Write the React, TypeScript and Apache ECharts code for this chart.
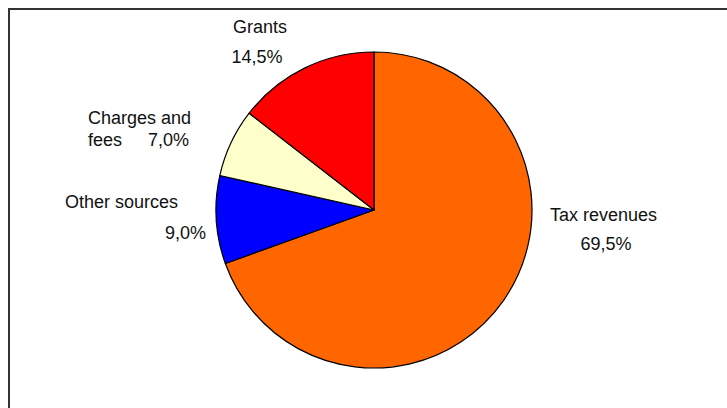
import React, { useEffect, useRef } from "react";
import * as echarts from "echarts";

const categories = ["Tax revenues", "Other sources", "Charges and fees", "Grants"];
const values = [69.5, 9.0, 7.0, 14.5];
const colors = ["#FF6600", "#0000FF", "#FFFFCC", "#FF0000"];

const fmt = (v: number) => v.toFixed(1).replace(".", ",") + "%";

export default function App() {
  const ref = useRef<HTMLDivElement>(null);
  useEffect(() => {
    document.body.style.margin = "0";
    const chart = echarts.init(ref.current!, null, { renderer: "svg" });
    const font = { fontFamily: "Liberation Sans, Arial, sans-serif", fontSize: 18, fill: "#111" };
    const txt = (text: string, x: number, y: number, align: string) => ({
      type: "text",
      x,
      y,
      style: { ...font, text, align, verticalAlign: "middle" },
      silent: true,
    });
    chart.setOption({
      animation: false,
      backgroundColor: "#fff",
      graphic: [
        {
          type: "polyline",
          shape: { points: [[9, 420], [9, 9], [740, 9]] },
          style: { stroke: "#333", lineWidth: 2, fill: null },
        },
        txt(categories[3], 260, 27, "center"),
        txt(fmt(values[3]), 257, 57, "center"),
        txt("Charges and", 88, 118, "left"),
        txt("fees", 88, 140, "left"),
        txt(fmt(values[2]), 189, 140, "right"),
        txt(categories[1], 65, 202, "left"),
        txt(fmt(values[1]), 206, 233, "right"),
        txt(categories[0], 550, 215, "left"),
        txt(fmt(values[0]), 606, 244, "center"),
      ],
      series: [
        {
          type: "pie",
          center: [374, 210],
          radius: 158,
          startAngle: 90,
          clockwise: true,
          label: { show: false },
          labelLine: { show: false },
          itemStyle: { borderColor: "#000", borderWidth: 1.2 },
          emphasis: { disabled: true },
          data: categories.map((name, i) => ({
            name,
            value: values[i],
            itemStyle: { color: colors[i] },
          })),
        },
      ],
    });
    return () => chart.dispose();
  }, []);
  return <div ref={ref} style={{ width: 727, height: 408 }} />;
}
